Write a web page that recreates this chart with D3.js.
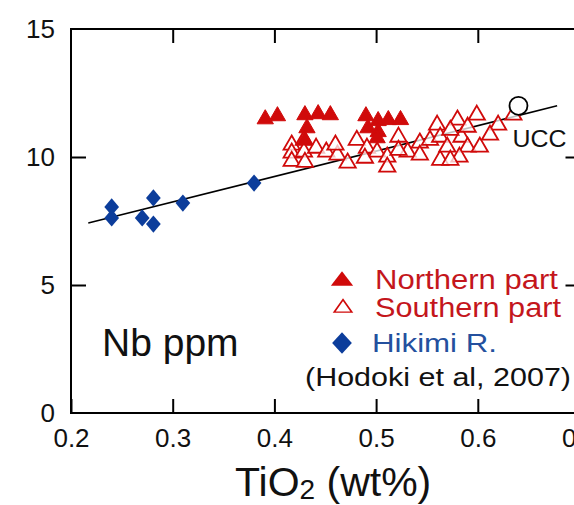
<!DOCTYPE html>
<html>
<head>
<meta charset="utf-8">
<script src="https://cdn.jsdelivr.net/npm/d3@7"></script>
<style>
  body { margin: 0; background: #fff; }
  svg { display: block; font-family: "Liberation Sans", Arial, sans-serif; }
</style>
</head>
<body>
<div id="chart"></div>
<script>
// Nb vs TiO2 data
const northTiO2 = [0.391, 0.403, 0.430, 0.443, 0.455, 0.432, 0.430, 0.490, 0.502, 0.512, 0.524, 0.502, 0.501, 0.492];
const northNb   = [11.48, 11.60, 11.64, 11.68, 11.64, 11.13, 10.66, 11.60, 11.41, 11.45, 11.45, 10.98, 10.74, 11.13];

const southTiO2 = [0.417, 0.417, 0.417, 0.429, 0.429, 0.430, 0.441, 0.451, 0.462, 0.472,
                   0.481, 0.491, 0.501, 0.511, 0.511, 0.522, 0.531, 0.543, 0.553, 0.560,
                   0.563, 0.563, 0.570, 0.580, 0.584, 0.590, 0.590, 0.599, 0.602, 0.582,
                   0.620, 0.635, 0.573, 0.543, 0.489, 0.522, 0.460, 0.573, 0.612];
const southNb   = [10.47, 10.16, 9.84, 10.66, 10.20, 9.80, 10.35, 10.20, 10.08, 9.77,
                   10.66, 10.35, 10.20, 10.00, 9.61, 10.78, 10.20, 10.55, 10.66, 11.25,
                   10.78, 9.88, 10.39, 11.45, 10.78, 11.17, 10.39, 11.64, 10.39, 10.00,
                   11.25, 11.64, 11.05, 10.08, 9.96, 10.27, 10.47, 9.88, 10.86];

const hikimiTiO2 = [0.240, 0.240, 0.270, 0.281, 0.281, 0.310, 0.380];
const hikimiNb   = [8.05, 7.62, 7.62, 8.40, 7.38, 8.20, 8.98];

const uccTiO2 = [0.64];
const uccNb = [12.0];

const trendTiO2 = [0.217, 0.678];
const trendNb = [7.42, 12.0];

const xTicks = [0.2, 0.3, 0.4, 0.5, 0.6, 0.7];
const yTicks = [0, 5, 10, 15];

const legendLabels = ['Northern part', 'Southern part', 'Hikimi R.'];

const width = 574, height = 505;
const margin = {top: 29, left: 71};
const plotW = 508.5, plotH = 384;

const red = '#d00a0a';
const blue = '#0c3d9b';

const svg = d3.select('#chart')
  .append('svg')
    .attr('width', width)
    .attr('height', height);

const x = d3.scaleLinear().domain([0.2, 0.7]).range([margin.left, margin.left + plotW]);
const y = d3.scaleLinear().domain([0, 15]).range([margin.top + plotH, margin.top]);

// diamond, a bit taller than wide
const diamond = {
  draw(ctx, size) {
    let h = Math.sqrt(size) * 0.62, w = h * 0.85;
    ctx.moveTo(0, -h); ctx.lineTo(w, 0); ctx.lineTo(0, h); ctx.lineTo(-w, 0); ctx.closePath();
  }
};
const tri = d3.symbol().type(d3.symbolTriangle).size(115)();
const dia = d3.symbol().type(diamond).size(195)();

// axes (ticks point inward)
function styleAxis(g) {
  g.select('.domain').remove();
  g.selectAll('line').attr('stroke', '#000').attr('stroke-width', 2);
  g.selectAll('text').attr('font-size', 26).attr('fill', '#111').attr('font-family', 'Liberation Sans, Arial, sans-serif');
}

svg.append('g')
  .attr('transform', `translate(0,${y(0)})`)
  .call(d3.axisBottom(x).tickValues(xTicks).tickFormat(d3.format('.1f')).tickSize(-14).tickPadding(16))
  .call(styleAxis);

svg.append('g')
  .attr('transform', `translate(0,${y(15)})`)
  .call(d3.axisTop(x).tickValues(xTicks.slice(1, -1)).tickFormat('').tickSize(-14))
  .call(styleAxis);

svg.append('g')
  .attr('transform', `translate(${x(0.2)},0)`)
  .call(d3.axisLeft(y).tickValues(yTicks).tickFormat(d3.format('d')).tickSize(-15).tickPadding(16))
  .call(styleAxis)
  .call(g => g.selectAll('line').filter(d => d === 0 || d === 15).remove());

svg.append('g')
  .attr('transform', `translate(${x(0.7)},0)`)
  .call(d3.axisRight(y).tickValues(yTicks.slice(1, -1)).tickFormat('').tickSize(-14))
  .call(styleAxis);

// frame
svg.append('rect')
  .attr('x', x(0.2)).attr('y', y(15))
  .attr('width', x(0.7) - x(0.2)).attr('height', y(0) - y(15))
  .attr('fill', 'none').attr('stroke', '#000').attr('stroke-width', 2);

// trend line
const line = d3.line().x(d => x(d[0])).y(d => y(d[1]));
svg.append('path')
  .datum(d3.zip(trendTiO2, trendNb))
  .attr('d', line)
  .attr('fill', 'none').attr('stroke', '#000').attr('stroke-width', 1.6);

// southern part: open triangles
svg.append('g').selectAll('path')
  .data(d3.zip(southTiO2, southNb))
  .join('path')
    .attr('d', tri)
    .attr('transform', d => `translate(${x(d[0])},${y(d[1])})`)
    .attr('fill', '#fff').attr('fill-opacity', 0.75)
    .attr('stroke', red).attr('stroke-width', 1.8);

// northern part: filled triangles
svg.append('g').selectAll('path')
  .data(d3.zip(northTiO2, northNb))
  .join('path')
    .attr('d', tri)
    .attr('transform', d => `translate(${x(d[0])},${y(d[1])})`)
    .attr('fill', red).attr('stroke', red).attr('stroke-width', 1);

// Hikimi R.: diamonds
svg.append('g').selectAll('path')
  .data(d3.zip(hikimiTiO2, hikimiNb))
  .join('path')
    .attr('d', dia)
    .attr('transform', d => `translate(${x(d[0])},${y(d[1])})`)
    .attr('fill', blue);

// UCC
svg.append('g').selectAll('circle')
  .data(d3.zip(uccTiO2, uccNb))
  .join('circle')
    .attr('cx', d => x(d[0])).attr('cy', d => y(d[1])).attr('r', 9)
    .attr('fill', '#fff').attr('stroke', '#000').attr('stroke-width', 1.8);

svg.append('text')
  .attr('x', x(uccTiO2[0]) - 6).attr('y', y(uccNb[0]) + 41)
  .attr('font-size', 23).attr('fill', '#111')
  .attr('textLength', 54).attr('lengthAdjust', 'spacingAndGlyphs')
  .text('UCC');

// panel label
svg.append('text')
  .attr('x', 102).attr('y', 356)
  .attr('font-size', 39).attr('fill', '#111')
  .text('Nb ppm');

// legend
const leg = svg.append('g');
const tri2 = d3.symbol().type(d3.symbolTriangle).size(150)();
leg.append('path').attr('d', tri2).attr('transform', 'translate(342,281) scale(1.2,0.9)').attr('fill', red);
leg.append('path').attr('d', d3.symbol().type(d3.symbolTriangle).size(110)())
  .attr('transform', 'translate(343,308) scale(1.1,0.9)')
  .attr('fill', '#fff').attr('stroke', red).attr('stroke-width', 1.6);
leg.append('path').attr('d', d3.symbol().type(d3.symbolDiamond).size(150)())
  .attr('transform', 'translate(342,343) scale(1.5,0.95)').attr('fill', blue);

const legText = (tx, ty, size, color, len, str) => leg.append('text')
  .attr('x', tx).attr('y', ty).attr('font-size', size).attr('fill', color)
  .attr('textLength', len).attr('lengthAdjust', 'spacingAndGlyphs')
  .text(str);

legText(375, 289, 27, '#c4161c', 183, legendLabels[0]);
legText(375, 317, 27, '#c4161c', 186, legendLabels[1]);
legText(372, 352, 26, '#24509e', 125, legendLabels[2]);
legText(305, 386, 26, '#111', 266, '(Hodoki et al, 2007)');

// x axis title
const title = svg.append('text')
  .attr('x', 235).attr('y', 496)
  .attr('font-size', 41).attr('fill', '#111');
title.append('tspan').text('TiO');
title.append('tspan').attr('font-size', 28).attr('dy', 3).text('2');
title.append('tspan').attr('dy', -3).text(' (wt%)');
</script>
</body>
</html>
